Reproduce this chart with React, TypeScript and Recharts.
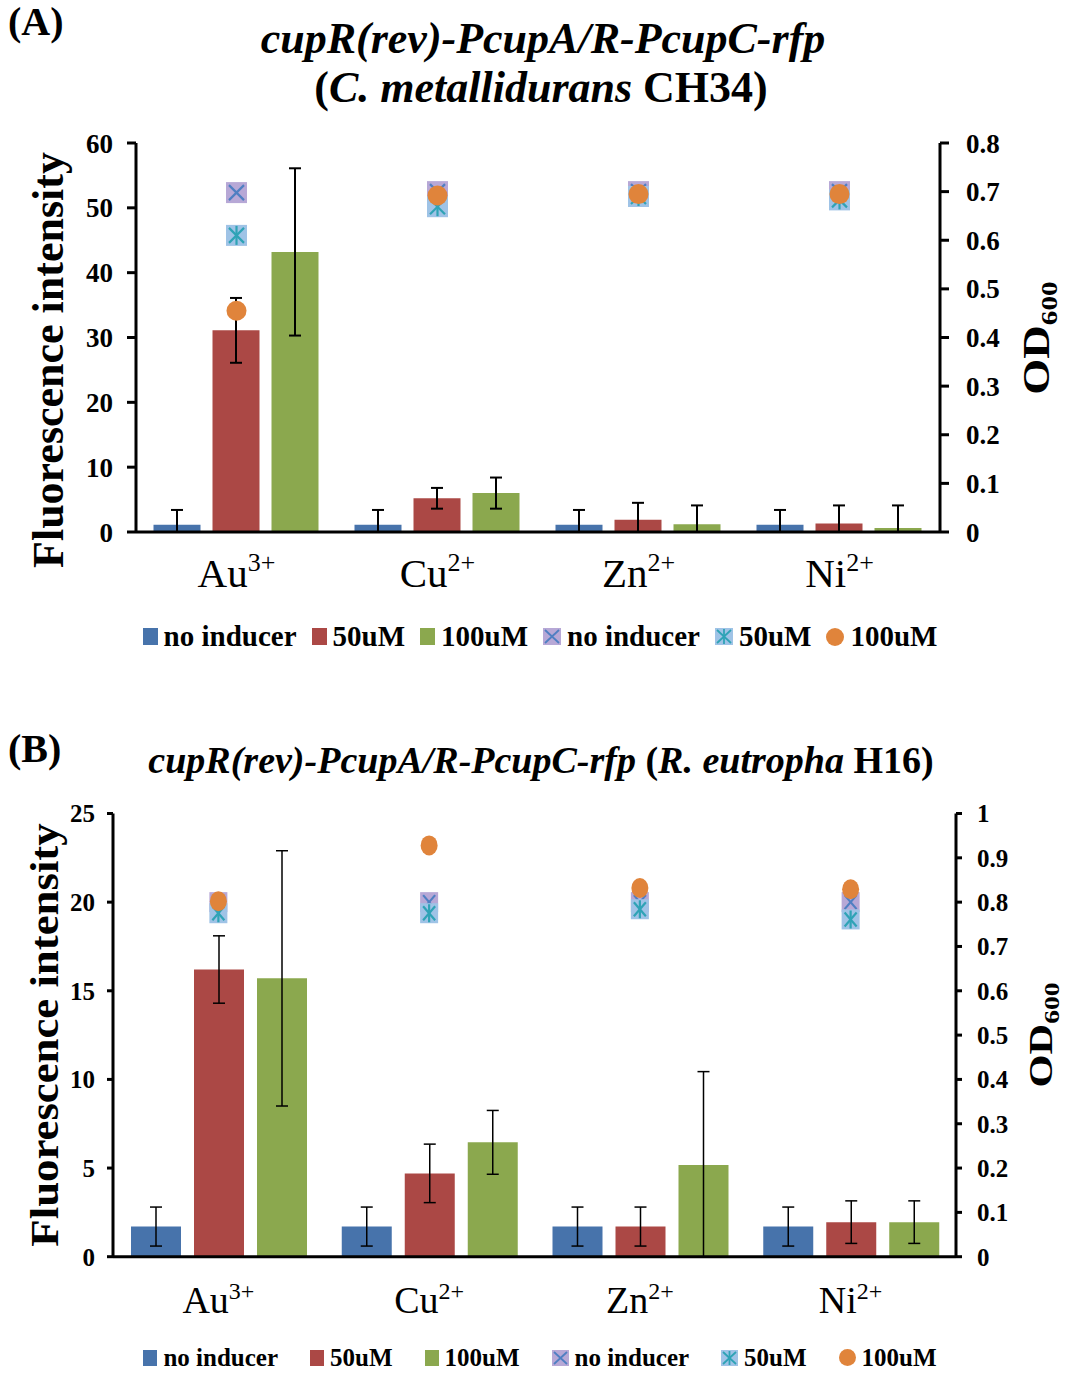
import React from 'react';
import { ComposedChart, Bar, Scatter, XAxis, YAxis, ErrorBar } from 'recharts';

const FONT = '"Liberation Serif", "Times New Roman", serif';

// ---------- shared ----------
const metals = ['Au', 'Cu', 'Zn', 'Ni'];
const charges = ['3+', '2+', '2+', '2+'];
const legendNames = ['no inducer', '50uM', '100uM', 'no inducer', '50uM', '100uM'];

const BLUE = '#4773ab';
const RED = '#ab4845';
const GREEN = '#8ba84e';
const PURPLE_BOX = '#b7a8d6';
const X_LINE = '#4f7fc2';
const AST_BOX = '#9fc3e6';
const AST_LINE = '#2fa3b6';
const ORANGE = '#e0843b';

// ---------- panel A : C. metallidurans CH34 ----------
const aFluNone = [1.1, 1.1, 1.1, 1.1];
const aFluNoneErr = [2.3, 2.3, 2.3, 2.3];
const aFlu50 = [31.1, 5.2, 1.9, 1.3];
const aFlu50Err = [5.0, 1.6, 2.6, 2.8];
const aFlu100 = [43.2, 6.0, 1.2, 0.6];
const aFlu100Err = [12.9, 2.4, 2.9, 3.5];
const aOdNone = [0.698, 0.7, 0.7, 0.7];
const aOd50 = [0.61, 0.669, 0.69, 0.683];
const aOd100 = [0.455, 0.692, 0.695, 0.695];
const aLeftTicks = [0, 10, 20, 30, 40, 50, 60];
const aRightTicks = [0, 0.1, 0.2, 0.3, 0.4, 0.5, 0.6, 0.7, 0.8];
const aRightLabels = ['0', '0.1', '0.2', '0.3', '0.4', '0.5', '0.6', '0.7', '0.8'];

// ---------- panel B : R. eutropha H16 ----------
const bFluNone = [1.7, 1.7, 1.7, 1.7];
const bFluNoneErr = [1.1, 1.1, 1.1, 1.1];
const bFlu50 = [16.2, 4.7, 1.7, 1.95];
const bFlu50Err = [1.9, 1.65, 1.1, 1.2];
const bFlu100 = [15.7, 6.45, 5.17, 1.95];
const bFlu100Err = [7.2, 1.8, 5.27, 1.2];
const bOdNone = [0.8, 0.8, 0.8, 0.8];
const bOd50 = [0.775, 0.775, 0.784, 0.761];
const bOd100 = [0.802, 0.928, 0.832, 0.829];
const bLeftTicks = [0, 5, 10, 15, 20, 25];
const bRightTicks = [0, 0.1, 0.2, 0.3, 0.4, 0.5, 0.6, 0.7, 0.8, 0.9, 1];
const bRightLabels = ['0', '0.1', '0.2', '0.3', '0.4', '0.5', '0.6', '0.7', '0.8', '0.9', '1'];

const clipErr = (v: number, e: number) => [Math.min(v, e), e];

const buildData = (none, noneE, f50, f50E, f100, f100E, odN, od5, od1) =>
  metals.map((m, i) => ({
    cat: m,
    none: none[i],
    noneErr: clipErr(none[i], noneE[i]),
    c50: f50[i],
    c50Err: clipErr(f50[i], f50E[i]),
    c100: f100[i],
    c100Err: clipErr(f100[i], f100E[i]),
    odNone: odN[i],
    od50: od5[i],
    od100: od1[i],
  }));

const dataA = buildData(aFluNone, aFluNoneErr, aFlu50, aFlu50Err, aFlu100, aFlu100Err, aOdNone, aOd50, aOd100);
const dataB = buildData(bFluNone, bFluNoneErr, bFlu50, bFlu50Err, bFlu100, bFlu100Err, bOdNone, bOd50, bOd100);

// ---------- markers ----------
const makeXMarker = (w: number, h: number) => (p: any) => {
  const { cx, cy } = p;
  if (cx == null || cy == null) return <g />;
  return (
    <g>
      <rect x={cx - w / 2} y={cy - h / 2} width={w} height={h} fill={PURPLE_BOX} />
      <line x1={cx - w / 2 + 3} y1={cy - h / 2 + 3} x2={cx + w / 2 - 3} y2={cy + h / 2 - 3} stroke={X_LINE} strokeWidth={2.2} />
      <line x1={cx + w / 2 - 3} y1={cy - h / 2 + 3} x2={cx - w / 2 + 3} y2={cy + h / 2 - 3} stroke={X_LINE} strokeWidth={2.2} />
    </g>
  );
};
const makeAstMarker = (w: number, h: number) => (p: any) => {
  const { cx, cy } = p;
  if (cx == null || cy == null) return <g />;
  return (
    <g>
      <rect x={cx - w / 2} y={cy - h / 2} width={w} height={h} fill={AST_BOX} />
      <line x1={cx - w / 2 + 3} y1={cy - h / 2 + 3} x2={cx + w / 2 - 3} y2={cy + h / 2 - 3} stroke={AST_LINE} strokeWidth={2.2} />
      <line x1={cx + w / 2 - 3} y1={cy - h / 2 + 3} x2={cx - w / 2 + 3} y2={cy + h / 2 - 3} stroke={AST_LINE} strokeWidth={2.2} />
      <line x1={cx} y1={cy - h / 2 + 1} x2={cx} y2={cy + h / 2 - 1} stroke={AST_LINE} strokeWidth={2.2} />
    </g>
  );
};
const makeCircle = (rx: number, ry: number) => (p: any) => {
  const { cx, cy } = p;
  if (cx == null || cy == null) return <g />;
  return <ellipse cx={cx} cy={cy} rx={rx} ry={ry} fill={ORANGE} />;
};

// ---------- ticks ----------
const makeXTick = (fs: number, sfs: number, base: number, supDy: number) => (p: any) => {
  const { x, y, payload } = p;
  const i = payload.index;
  return (
    <text x={x} y={y + base} textAnchor="middle" fontFamily={FONT} fontSize={fs} fill="#000">
      <tspan>{metals[i]}</tspan>
      <tspan fontSize={sfs} dy={supDy}>{charges[i]}</tspan>
    </text>
  );
};

// ---------- legend ----------
const LegendIcon = ({ kind, s }: { kind: number; s: number }) => {
  const w = s, h = s + 2;
  if (kind < 3) {
    const c = [BLUE, RED, GREEN][kind];
    return (
      <svg width={w} height={h} style={{ display: 'block' }}>
        <rect x={0} y={0} width={w} height={h} fill={c} />
      </svg>
    );
  }
  if (kind === 3) {
    return (
      <svg width={w + 3} height={h} style={{ display: 'block' }}>
        <rect x={0} y={0} width={w + 3} height={h} fill={PURPLE_BOX} />
        <line x1={2} y1={2} x2={w + 1} y2={h - 2} stroke={X_LINE} strokeWidth={1.8} />
        <line x1={w + 1} y1={2} x2={2} y2={h - 2} stroke={X_LINE} strokeWidth={1.8} />
      </svg>
    );
  }
  if (kind === 4) {
    return (
      <svg width={w + 3} height={h} style={{ display: 'block' }}>
        <rect x={0} y={0} width={w + 3} height={h} fill={AST_BOX} />
        <line x1={2} y1={2} x2={w + 1} y2={h - 2} stroke={AST_LINE} strokeWidth={1.8} />
        <line x1={w + 1} y1={2} x2={2} y2={h - 2} stroke={AST_LINE} strokeWidth={1.8} />
        <line x1={(w + 3) / 2} y1={1} x2={(w + 3) / 2} y2={h - 1} stroke={AST_LINE} strokeWidth={1.8} />
      </svg>
    );
  }
  return (
    <svg width={w + 3} height={h + 1} style={{ display: 'block' }}>
      <ellipse cx={(w + 3) / 2} cy={(h + 1) / 2} rx={(w + 3) / 2} ry={(h + 1) / 2} fill={ORANGE} />
    </svg>
  );
};

const LegendRow = ({ top, fs, gap, icon }: { top: number; fs: number; gap: number; icon: number }) => (
  <div
    style={{
      position: 'absolute',
      left: 0,
      top,
      width: 1080,
      display: 'flex',
      justifyContent: 'center',
      alignItems: 'center',
      columnGap: gap,
      fontFamily: FONT,
      fontWeight: 700,
      fontSize: fs,
      lineHeight: 1,
      color: '#000',
    }}
  >
    {legendNames.map((n, k) => (
      <div key={k} style={{ display: 'flex', alignItems: 'center', columnGap: 6 }}>
        <LegendIcon kind={k} s={icon} />
        <span style={{ whiteSpace: 'nowrap' }}>{n}</span>
      </div>
    ))}
  </div>
);

const axisLine = { stroke: '#000', strokeWidth: 3 };
const tickStyle = (fs: number) => ({ fontSize: fs, fontWeight: 700, fill: '#000', fontFamily: FONT });

const Panel = ({
  data, height, margin, catGap, barGap, leftDomain, leftTicks, rightDomain, rightTicks, rightLabels,
  tickFs, tickSize, lMargin, rMargin, xTick, xMarker, astMarker, circ, errW, errSW,
}: any) => (
  <ComposedChart width={1069} height={height} data={data} margin={margin} barCategoryGap={catGap} barGap={barGap}>
    <XAxis dataKey="cat" height={60} tickLine={false} axisLine={axisLine} tick={xTick} tickSize={0} tickMargin={0} interval={0} />
    <YAxis
      yAxisId="left" width={60} domain={leftDomain} ticks={leftTicks} interval={0} allowDataOverflow
      axisLine={axisLine} tickLine={{ stroke: '#000', strokeWidth: 3 }} tickSize={tickSize} tickMargin={lMargin}
      tick={tickStyle(tickFs)}
    />
    <YAxis
      yAxisId="right" orientation="right" width={60} domain={rightDomain} ticks={rightTicks} interval={0} allowDataOverflow
      axisLine={axisLine} tickLine={{ stroke: '#000', strokeWidth: 3 }} tickSize={tickSize} tickMargin={rMargin}
      tick={tickStyle(tickFs)}
      tickFormatter={(v: number) => rightLabels[rightTicks.indexOf(v)] ?? String(v)}
    />
    <Bar yAxisId="left" dataKey="none" fill={BLUE} isAnimationActive={false}>
      <ErrorBar dataKey="noneErr" width={errW} stroke="#000" strokeWidth={errSW} direction="y" />
    </Bar>
    <Bar yAxisId="left" dataKey="c50" fill={RED} isAnimationActive={false}>
      <ErrorBar dataKey="c50Err" width={errW} stroke="#000" strokeWidth={errSW} direction="y" />
    </Bar>
    <Bar yAxisId="left" dataKey="c100" fill={GREEN} isAnimationActive={false}>
      <ErrorBar dataKey="c100Err" width={errW} stroke="#000" strokeWidth={errSW} direction="y" />
    </Bar>
    <Scatter yAxisId="right" dataKey="odNone" shape={xMarker} isAnimationActive={false} />
    <Scatter yAxisId="right" dataKey="od50" shape={astMarker} isAnimationActive={false} />
    <Scatter yAxisId="right" dataKey="od100" shape={circ} isAnimationActive={false} />
  </ComposedChart>
);

export default function App() {
  const bold = { fontFamily: FONT, fontWeight: 700 } as const;
  return (
    <div style={{ position: 'absolute', left: 0, top: 0, width: 1069, height: 1374, background: '#fff', overflow: 'hidden' }}>
      <div style={{ position: 'absolute', left: 0, top: 0 }}>
        <Panel
          data={dataA} height={670} margin={{ top: 143, right: 69, bottom: 78, left: 76 }}
          catGap={17.5} barGap={12}
          leftDomain={[0, 60]} leftTicks={aLeftTicks}
          rightDomain={[0, 0.8]} rightTicks={aRightTicks} rightLabels={aRightLabels}
          tickFs={27} tickSize={9} lMargin={14} rMargin={17}
          xTick={makeXTick(41, 26, 55, -16)}
          xMarker={makeXMarker(21, 21)} astMarker={makeAstMarker(21, 21)} circ={makeCircle(10, 10)}
          errW={6} errSW={2}
        />
      </div>
      <div style={{ position: 'absolute', left: 0, top: 690 }}>
        <Panel
          data={dataB} height={684} margin={{ top: 123.5, right: 53, bottom: 57.3, left: 53 }}
          catGap={18} barGap={13}
          leftDomain={[0, 25]} leftTicks={bLeftTicks}
          rightDomain={[0, 1]} rightTicks={bRightTicks} rightLabels={bRightLabels}
          tickFs={25} tickSize={6} lMargin={12} rMargin={15}
          xTick={makeXTick(38, 24, 56, -14)}
          xMarker={makeXMarker(18, 20)} astMarker={makeAstMarker(18, 20)} circ={makeCircle(8.5, 10)}
          errW={6} errSW={1.5}
        />
      </div>

      <LegendRow top={622} fs={29} gap={15} icon={15} />
      <LegendRow top={1345} fs={25} gap={32} icon={14} />

      <svg width={1069} height={1374} style={{ position: 'absolute', left: 0, top: 0, pointerEvents: 'none' }}>
        {/* panel A titles */}
        <text x={8} y={35} fontSize={40} {...bold}>(A)</text>
        <text x={543} y={53} textAnchor="middle" fontSize={44} fontStyle="italic" {...bold}>cupR(rev)-PcupA/R-PcupC-rfp</text>
        <text x={541} y={102} textAnchor="middle" fontSize={44} {...bold}>
          <tspan>(</tspan>
          <tspan fontStyle="italic">C. metallidurans</tspan>
          <tspan> CH34)</tspan>
        </text>
        <text transform="translate(63,360) rotate(-90)" textAnchor="middle" fontSize={44} {...bold}>Fluorescence intensity</text>
        <text transform="translate(1049,338) rotate(-90) scale(1.22,1)" textAnchor="middle" fontSize={38} {...bold}>
          <tspan>OD</tspan>
          <tspan fontSize={24} dy={8}>600</tspan>
        </text>

        {/* panel B titles */}
        <text x={8} y={762} fontSize={40} {...bold}>(B)</text>
        <text x={541} y={773} textAnchor="middle" fontSize={38} {...bold}>
          <tspan fontStyle="italic">cupR(rev)-PcupA/R-PcupC-rfp</tspan>
          <tspan> (</tspan>
          <tspan fontStyle="italic">R. eutropha</tspan>
          <tspan> H16)</tspan>
        </text>
        <text transform="translate(58,1035) rotate(-90) scale(1.12,1)" textAnchor="middle" fontSize={40} {...bold}>Fluorescence intensity</text>
        <text transform="translate(1052,1035) rotate(-90) scale(1.25,1)" textAnchor="middle" fontSize={34} {...bold}>
          <tspan>OD</tspan>
          <tspan fontSize={22} dy={7}>600</tspan>
        </text>
      </svg>
    </div>
  );
}
